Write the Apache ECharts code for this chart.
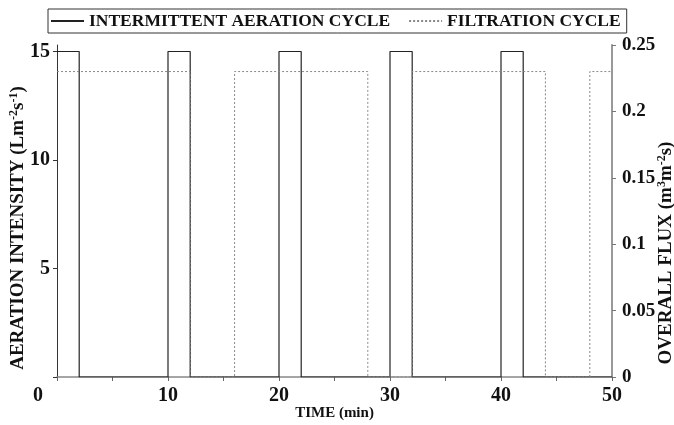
<!DOCTYPE html>
<html>
<head>
<meta charset="utf-8">
<script src="https://cdn.jsdelivr.net/npm/echarts@6/dist/echarts.min.js"></script>
<style>
  html, body { margin: 0; padding: 0; background: #fff; }
  #chart { width: 674px; height: 425px; }
</style>
</head>
<body>
<div id="chart"></div>
<script>
// step points: value holds until the next time
var aerationTimes = [0, 2, 10, 12, 20, 22, 30, 32, 40, 42, 50];
var aerationValues = [15, 0, 15, 0, 15, 0, 15, 0, 15, 0, 0];
var filtrationTimes = [0, 12, 16, 28, 32, 44, 48, 50];
var filtrationValues = [0.23, 0, 0.23, 0, 0.23, 0, 0.23, 0.23];
var leftTicks = [0, 5, 10, 15];
var leftLabels = [5, 10, 15];

function pairs(xs, ys) {
  return xs.map(function (x, i) { return [x, ys[i]]; });
}

var font = '"Liberation Serif", "DejaVu Serif", serif';
var chart = echarts.init(document.getElementById('chart'));

var option = {
  backgroundColor: '#fff',
  animation: false,
  textStyle: { fontFamily: font },
  legend: {
    left: 48,
    top: 9,
    padding: [3, 6, 3, 2],
    borderColor: '#333',
    borderWidth: 1,
    borderRadius: 0,
    itemWidth: 33,
    itemHeight: 14,
    itemGap: 18,
    itemStyle: { opacity: 0 },
    textStyle: { fontFamily: font, fontWeight: 'bold', fontSize: 17.5, color: '#111' },
    data: ['INTERMITTENT AERATION CYCLE', 'FILTRATION CYCLE']
  },
  grid: { left: 57, right: 62, top: 45, bottom: 48, containLabel: false, outerBoundsMode: 'none' },
  xAxis: {
    type: 'value',
    min: 0,
    max: 50,
    interval: 5,
    offset: 3,
    name: 'TIME (min)',
    nameLocation: 'middle',
    nameGap: 26,
    nameMoveOverlap: false,
    nameTextStyle: { fontFamily: font, fontWeight: 'bold', fontSize: 15, color: '#111' },
    axisLine: { lineStyle: { color: '#888', width: 1.5 } },
    axisTick: { length: 4, lineStyle: { color: '#666' } },
    splitLine: { show: false },
    axisLabel: {
      margin: 6,
      fontFamily: font,
      fontWeight: 'bold',
      fontSize: 20,
      color: '#111',
      formatter: function (v) {
        if (v === 0) return '{z|0}';
        return v % 10 === 0 ? String(v) : '';
      },
      rich: { z: { fontFamily: font, fontWeight: 'bold', fontSize: 20, color: '#111', padding: [0, 38, 0, 0] } }
    }
  },
  yAxis: [
    {
      type: 'value',
      min: 0,
      max: 15.3,
      position: 'left',
      name: 'AERATION INTENSITY (Lm{s|-2}s{s|-1})',
      nameLocation: 'middle',
      nameRotate: 90,
      nameGap: 29,
      nameMoveOverlap: false,
      nameTextStyle: {
        fontFamily: font, fontWeight: 'bold', fontSize: 19, color: '#111',
        padding: [0, 34, 0, 0],
        rich: { s: { fontFamily: font, fontWeight: 'bold', fontSize: 12, color: '#111', verticalAlign: 'top', padding: [0, 0, 8, 0] } }
      },
      axisLine: { show: true, lineStyle: { color: '#333', width: 1 } },
      axisTick: { show: true, length: 4, customValues: leftTicks, lineStyle: { color: '#333' } },
      splitLine: { show: false },
      axisLabel: {
        customValues: leftLabels,
        margin: 7,
        fontFamily: font,
        fontWeight: 'bold',
        fontSize: 20,
        color: '#111'
      }
    },
    {
      type: 'value',
      min: 0,
      max: 0.25,
      interval: 0.05,
      position: 'right',
      name: 'OVERALL FLUX (m{s|3}m{s|-2}s)',
      nameLocation: 'middle',
      nameRotate: 90,
      nameGap: 44,
      nameMoveOverlap: false,
      nameTextStyle: {
        fontFamily: font, fontWeight: 'bold', fontSize: 19, color: '#111',
        padding: [0, 84, 0, 0],
        rich: { s: { fontFamily: font, fontWeight: 'bold', fontSize: 12, color: '#111', verticalAlign: 'top', padding: [0, 0, 8, 0] } }
      },
      axisLine: { show: true, lineStyle: { color: '#999', width: 2 } },
      axisTick: { show: true, length: 4, lineStyle: { color: '#777' } },
      splitLine: { show: false },
      axisLabel: {
        margin: 10,
        fontFamily: font,
        fontWeight: 'bold',
        fontSize: 19,
        color: '#111'
      }
    }
  ],
  series: [
    {
      name: 'INTERMITTENT AERATION CYCLE',
      type: 'line',
      step: 'end',
      yAxisIndex: 0,
      symbol: 'none',
      lineStyle: { color: '#222', width: 1.2, type: 'solid' },
      itemStyle: { color: '#222' },
      data: pairs(aerationTimes, aerationValues)
    },
    {
      name: 'FILTRATION CYCLE',
      type: 'line',
      step: 'end',
      yAxisIndex: 1,
      symbol: 'none',
      lineStyle: { color: '#888', width: 1, type: [2, 2] },
      itemStyle: { color: '#888' },
      data: pairs(filtrationTimes, filtrationValues)
    }
  ]
};

chart.setOption(option);
window.addEventListener('resize', function () {
  chart.resize();
});
</script>
</body>
</html>
